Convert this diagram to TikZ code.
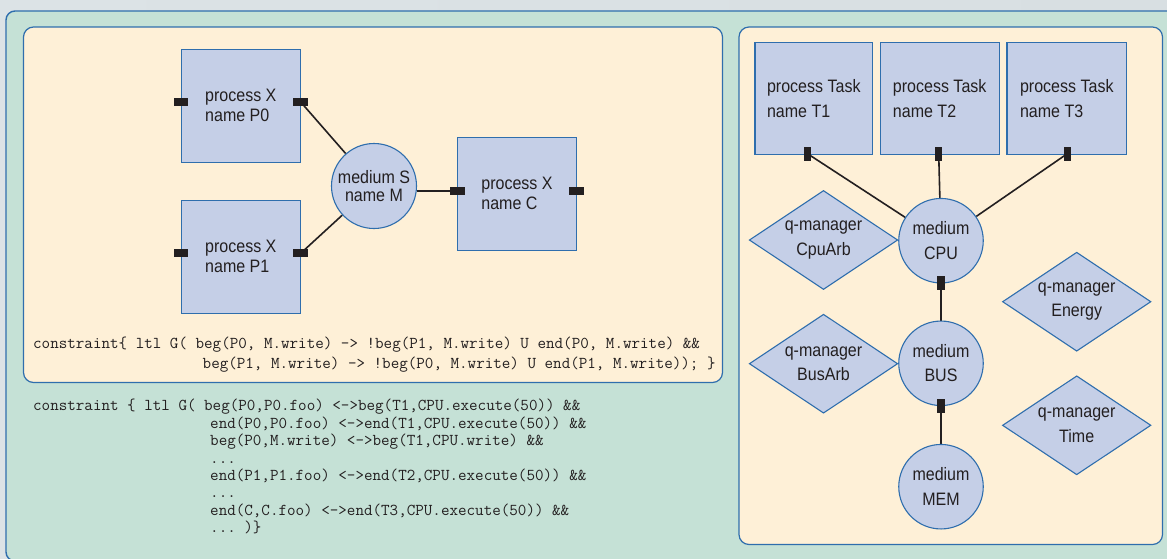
\documentclass[tikz,border=0pt]{standalone}
\usepackage{fontspec}
\setmainfont{Liberation Sans}[FakeStretch=0.89]
\usetikzlibrary{shapes.geometric,calc}
\definecolor{bgA}{HTML}{DCE3E6}
\definecolor{bgB}{HTML}{EEF1F2}
\definecolor{bgC}{HTML}{D8DFE2}
\definecolor{frameg}{HTML}{C5E1D6}
\definecolor{cream}{HTML}{FEF0D7}
\definecolor{boxb}{HTML}{C5CFE7}
\definecolor{edge}{HTML}{2F6EAD}
\definecolor{ink}{HTML}{231F20}
\pgfdeclarelayer{back}
\pgfdeclarelayer{wires}
\pgfsetlayers{back,wires,main}
\begin{document}
\begin{tikzpicture}[x=1pt,y=-1pt,
  frame/.style={draw=edge,line width=1.4pt,rounded corners=9pt},
  proc/.style={draw=edge,fill=boxb,line width=1.1pt,rectangle,inner sep=0pt,
    align=left,text=ink,minimum width=119.5pt,minimum height=113pt},
  lfont/.style={font=\fontsize{18}{20}\selectfont},
  rfont/.style={font=\fontsize{18}{24.5}\selectfont},
  med/.style={draw=edge,fill=boxb,line width=1.1pt,circle,inner sep=0pt,
    align=center,text=ink,minimum size=85pt},
  qm/.style={draw=edge,fill=boxb,line width=1.1pt,diamond,aspect=1.5,inner sep=0pt,
    align=center,text=ink,minimum width=148.5pt,minimum height=99pt,rfont},
  hport/.style={fill=ink,rectangle,inner sep=0pt,minimum width=14.5pt,minimum height=8pt},
  vport/.style={fill=ink,rectangle,inner sep=0pt,minimum width=7.5pt,minimum height=14pt},
  wire/.style={draw=ink,line width=1.6pt},
  code/.style={anchor=base west,inner sep=0pt,text=ink,font=\ttfamily\frenchspacing\fontsize{16.6}{18}\selectfont}]
\useasboundingbox (0,0) rectangle (1167,558);
\clip (0,0) rectangle (1167,558);

% ---------- left diagram ----------
\node[proc,lfont] (P0) at (240.8,105.8) {process X\\name P0};
\node[proc,lfont] (P1) at (240.8,256.7) {process X\\name P1};
\node[proc,lfont] (C) at (517,193.8) {process X\\name C};
\node[med,font=\fontsize{18}{18.5}\selectfont] (M) at (374,186) {medium S\\name M};
\node[hport] (P0L) at (181,102) {};
\node[hport] (P0R) at (300.7,102) {};
\node[hport] (P1L) at (181,253.3) {};
\node[hport] (P1R) at (300.7,253.3) {};
\node[hport] (CL) at (457.3,190.7) {};
\node[hport] (CR) at (576.7,190.7) {};

% ---------- right diagram ----------
\node[proc,rfont,minimum width=117.7pt,minimum height=111.3pt] (T1) at (813.8,98.4) {process Task\\name T1};
\node[proc,rfont,minimum width=119.3pt,minimum height=111.3pt] (T2) at (939.7,98.4) {process Task\\name T2};
\node[proc,rfont,minimum width=119.7pt,minimum height=111.3pt] (T3) at (1066.8,98.4) {process Task\\name T3};
\node[vport] (T1p) at (807.5,153.7) {};
\node[vport] (T2p) at (938.7,153.7) {};
\node[vport] (T3p) at (1067.3,153.7) {};
\node[med,rfont,minimum size=84.5pt] (CPU) at (941,240.7) {medium\\CPU};
\node[med,rfont,minimum size=84.5pt] (BUS) at (941,363.3) {medium\\BUS};
\node[med,rfont,minimum size=84.5pt] (MEM) at (941,486.7) {medium\\MEM};
\node[vport] (CPUp) at (941,282.5) {};
\node[vport] (BUSp) at (941,406) {};
\node[qm] (CpuArb) at (823.5,240) {q-manager\\CpuArb};
\node[qm] (BusArb) at (823.5,363.7) {q-manager\\BusArb};
\node[qm] (Energy) at (1076.7,301.7) {q-manager\\Energy};
\node[qm] (Time) at (1076.7,425.3) {q-manager\\Time};

% ---------- code ----------
\node[code] (u1) at (33,348.5) {constraint\{ ltl G( beg(P0, M.write) -> !beg(P1, M.write) U end(P0, M.write) \&\&};
\node[code] (u2) at (202.5,368.5) {beg(P1, M.write) -> !beg(P0, M.write) U end(P1, M.write)); \}};
\node[code] (l1) at (33,410.8) {constraint \{ ltl G( beg(P0,P0.foo) <->beg(T1,CPU.execute(50)) \&\&};
\node[code] (l2) at (210,428.2) {end(P0,P0.foo) <->end(T1,CPU.execute(50)) \&\&};
\node[code] (l3) at (210,445.6) {beg(P0,M.write) <->beg(T1,CPU.write) \&\&};
\node[code] (l4) at (210,463) {...};
\node[code] (l5) at (210,480.4) {end(P1,P1.foo) <->end(T2,CPU.execute(50)) \&\&};
\node[code] (l6) at (210,497.8) {...};
\node[code] (l7) at (210,515.2) {end(C,C.foo) <->end(T3,CPU.execute(50)) \&\&};
\node[code] (l8) at (210,532.6) {... )\}};

% ---------- connectors ----------
\begin{pgfonlayer}{wires}
  \draw[wire] (P0R.center) -- (M);
  \draw[wire] (P1R.center) -- (M);
  \draw[wire] (CL.center) -- (CL -| M.east);
  \draw[wire] (T1p.center) -- (CPU);
  \draw[wire] (T2p.center) -- (CPU);
  \draw[wire] (T3p.center) -- (CPU);
  \draw[wire] (CPUp.center) -- (BUS);
  \draw[wire] (BUSp.center) -- (MEM);
\end{pgfonlayer}

% ---------- frames ----------
\begin{pgfonlayer}{back}
  \shade[left color=bgA,middle color=bgB,right color=bgC] (0,0) rectangle (1167,558);
  \draw[frame,fill=frameg] (6,11) rectangle (1190,561);
  \draw[frame,fill=cream,line width=1.2pt,rounded corners=10pt] (23.5,27) rectangle (722.5,382.5);
  \draw[frame,fill=cream,line width=1.2pt,rounded corners=10pt] (739,27) rectangle (1162.5,544.5);
\end{pgfonlayer}
\end{tikzpicture}
\end{document}
